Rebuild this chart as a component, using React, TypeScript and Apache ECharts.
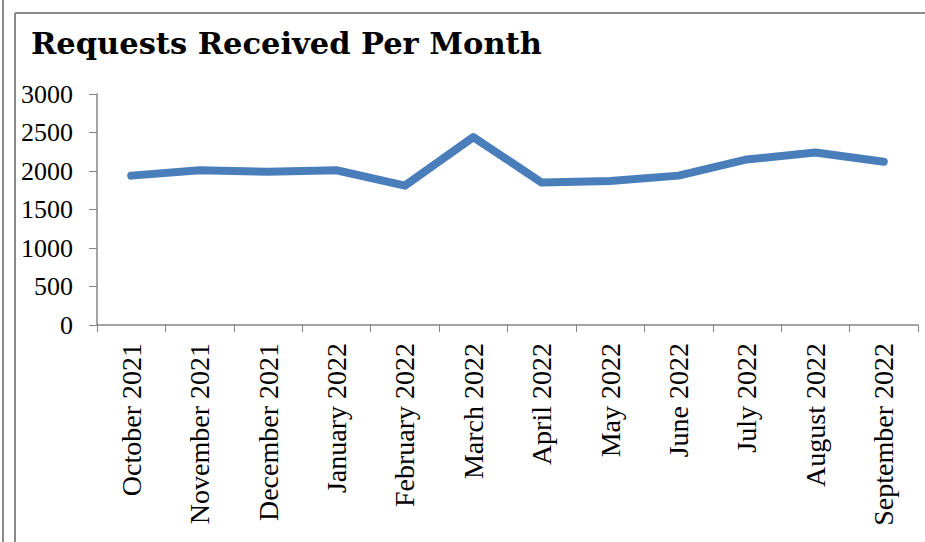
import React, { useEffect, useRef } from "react";
import * as echarts from "echarts";

const months = [
  "October 2021", "November 2021", "December 2021", "January 2022",
  "February 2022", "March 2022", "April 2022", "May 2022",
  "June 2022", "July 2022", "August 2022", "September 2022",
];
const requests = [1940, 2010, 1990, 2010, 1810, 2440, 1850, 1870, 1940, 2150, 2240, 2120];
const titleText = "Requests Received Per Month";

export default function App() {
  const ref = useRef<HTMLDivElement>(null);
  useEffect(() => {
    if (!ref.current) return;
    const chart = echarts.init(ref.current, null, { renderer: "svg" });
    const font = "'Liberation Serif', 'DejaVu Serif', serif";
    chart.setOption({
      animation: false,
      backgroundColor: "#ffffff",
      title: {
        text: titleText,
        left: 26,
        top: 22,
        textStyle: { fontFamily: "'DejaVu Serif', serif", fontWeight: "bold", fontSize: 30.5, color: "#000" },
      },
      graphic: [
        { type: "line", shape: { x1: 3, y1: 0, x2: 3, y2: 542 }, style: { stroke: "#8a8a8a", lineWidth: 2 } },
        { type: "line", shape: { x1: 15, y1: 13, x2: 15, y2: 542 }, style: { stroke: "#8a8a8a", lineWidth: 2 } },
        { type: "line", shape: { x1: 15, y1: 13, x2: 925, y2: 13 }, style: { stroke: "#8a8a8a", lineWidth: 2 } },
      ],
      grid: { left: 97, right: 7, top: 94, bottom: 217, containLabel: false },
      xAxis: {
        type: "category",
        data: months,
        boundaryGap: true,
        axisLine: { lineStyle: { color: "#868686", width: 1.5 } },
        axisTick: { show: true, alignWithLabel: false, length: 7, lineStyle: { color: "#868686" } },
        axisLabel: { rotate: 90, interval: 0, margin: 18, fontFamily: font, fontSize: 28, color: "#000" },
      },
      yAxis: {
        type: "value",
        min: 0,
        max: 3000,
        interval: 500,
        splitLine: { show: false },
        axisLine: { show: true, lineStyle: { color: "#868686", width: 1.5 } },
        axisTick: { show: true, length: 8, lineStyle: { color: "#868686" } },
        axisLabel: {
          margin: 24,
          fontFamily: font,
          fontSize: 26,
          color: "#000",
          formatter: (v: number) => String(v),
        },
      },
      series: [
        {
          type: "line",
          data: requests,
          symbol: "none",
          lineStyle: { color: "#4a7ebb", width: 8, cap: "round", join: "round" },
        },
      ],
    });
    return () => chart.dispose();
  }, []);
  return <div ref={ref} style={{ width: 925, height: 542, position: "fixed", left: 0, top: 0 }} />;
}
